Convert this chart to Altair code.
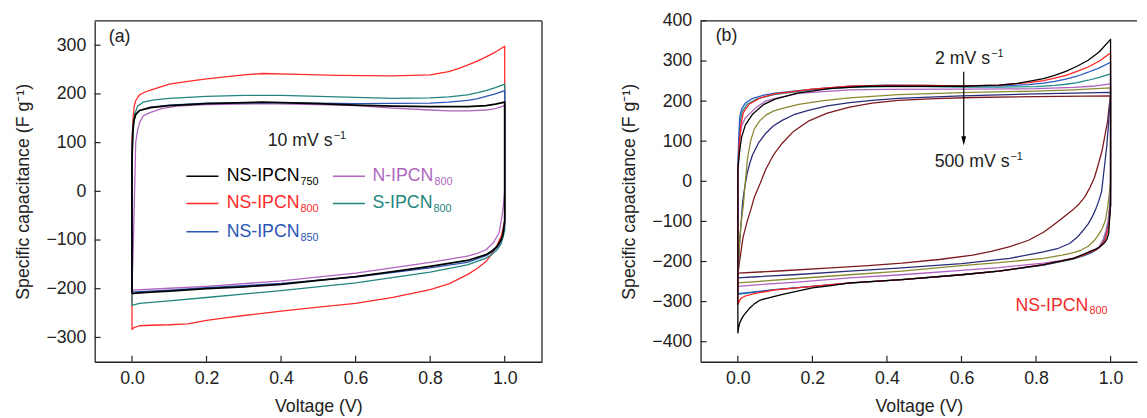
import altair as alt
import pandas as pd

FONT = "Liberation Sans"
INK = "#222222"

# ---------------- tick values ----------------
X_TICKS = [0.0, 0.2, 0.4, 0.6, 0.8, 1.0]
A_Y_TICKS = [-300, -200, -100, 0, 100, 200, 300]
B_Y_TICKS = [-400, -300, -200, -100, 0, 100, 200, 300, 400]

# ---------------- panel (a): samples at 10 mV/s ----------------
A_SERIES = ["NS-IPCN800", "N-IPCN800", "S-IPCN800", "NS-IPCN850", "NS-IPCN750"]
A_COLORS = ["#ff2a2a", "#b066be", "#23867e", "#2b55b5", "#000000"]

A_V_NS800 = [0.0, 0.0, 0.003, 0.006, 0.01, 0.02, 0.035, 0.05, 0.075, 0.1, 0.15, 0.2, 0.25, 0.3, 0.35, 0.45, 0.55, 0.7,
             0.8, 0.85, 0.875, 0.9, 0.925, 0.95, 0.975, 1.0,
             1.0, 0.995, 0.99, 0.98, 0.97, 0.95, 0.925, 0.9, 0.85, 0.8, 0.7, 0.6, 0.5, 0.4, 0.3, 0.25, 0.2, 0.15,
             0.1, 0.05, 0.02, 0.005, 0.0]
A_C_NS800 = [-284, 100, 150, 175, 186, 198, 204, 208, 214, 220, 226, 231, 235, 239, 242, 240, 238, 237,
             239, 246, 252, 259, 267, 276, 286, 298,
             -60, -78, -93, -110, -124, -144, -159, -171, -190, -202, -218, -230, -238, -246, -255, -260, -265, -272,
             -274, -275, -276, -280, -284]

A_V_N800 = [0.0, 0.004, 0.007, 0.01, 0.015, 0.02, 0.03, 0.05, 0.08, 0.12, 0.2, 0.35, 0.5, 0.6, 0.7, 0.8, 0.85, 0.9,
            0.95, 0.975, 1.0,
            1.0, 0.997, 0.993, 0.985, 0.97, 0.95, 0.925, 0.9, 0.8, 0.6, 0.4, 0.2, 0.1, 0.0]
A_C_N800 = [-203, -100, 0, 100, 125, 140, 155, 162, 170, 175, 178, 180, 178, 176, 171, 167, 165, 165,
            167, 170, 176,
            0, -25, -50, -85, -105, -120, -128, -133, -146, -168, -184, -195, -199, -203]

A_V_S800 = [0.0, 0.0, 0.003, 0.008, 0.015, 0.03, 0.06, 0.1, 0.2, 0.3, 0.4, 0.5, 0.6, 0.7, 0.8, 0.85, 0.9, 0.925,
            0.95, 0.975, 1.0,
            1.0, 0.995, 0.99, 0.98, 0.965, 0.95, 0.9, 0.8, 0.6, 0.4, 0.2, 0.1, 0.02, 0.0]
A_C_S800 = [-234, 60, 130, 160, 175, 183, 188, 191, 195, 197, 197, 195, 193, 191, 192, 194, 198, 202,
            207, 213, 220,
            -80, -96, -108, -120, -130, -137, -151, -166, -188, -204, -218, -225, -230, -234]

A_V_NS850 = [0.0, 0.0, 0.003, 0.005, 0.01, 0.02, 0.05, 0.1, 0.2, 0.4, 0.6, 0.8, 0.85, 0.9, 0.925, 0.95, 0.975, 1.0,
             1.0, 0.995, 0.99, 0.98, 0.965, 0.95, 0.9, 0.8, 0.6, 0.4, 0.2, 0.1, 0.02, 0.0]
A_C_NS850 = [-207, 80, 130, 145, 157, 166, 173, 177, 181, 182, 180, 181, 183, 187, 190, 195, 200, 207,
             -70, -88, -102, -115, -125, -132, -146, -157, -176, -189, -198, -203, -206, -207]

A_V_NS750 = [0.0, 0.0, 0.002, 0.005, 0.01, 0.02, 0.05, 0.1, 0.2, 0.35, 0.5, 0.6, 0.7, 0.8, 0.9, 0.95, 0.975, 1.0,
             1.0, 0.995, 0.99, 0.98, 0.965, 0.95, 0.9, 0.8, 0.7, 0.6, 0.5, 0.4, 0.3, 0.2, 0.1, 0.05, 0.01, 0.0]
A_C_NS750 = [-210, 60, 120, 145, 158, 166, 172, 176, 180, 183, 180, 177, 175, 174, 174, 176, 179, 183,
             -60, -90, -100, -113, -123, -130, -142, -154, -165, -175, -183, -191, -196, -200, -205, -207, -209, -210]

A_V = [A_V_NS800, A_V_N800, A_V_S800, A_V_NS850, A_V_NS750]
A_C = [A_C_NS800, A_C_N800, A_C_S800, A_C_NS850, A_C_NS750]

# legend of panel (a)
LEG_SERIES = ["NS-IPCN750", "NS-IPCN800", "NS-IPCN850", "N-IPCN800", "S-IPCN800"]
LEG_MAIN = ["NS-IPCN", "NS-IPCN", "NS-IPCN", "N-IPCN", "S-IPCN"]
LEG_SUB = ["750", "800", "850", "800", "800"]

# ---------------- panel (b): NS-IPCN800 at 2 ... 500 mV/s ----------------
B_SERIES = ["500 mV/s", "200 mV/s", "100 mV/s", "50 mV/s", "20 mV/s", "10 mV/s", "5 mV/s", "2 mV/s"]
B_COLORS = ["#7d1a1e", "#2a2d78", "#8c8a30", "#b060c0", "#1f8f8a", "#2b5cc0", "#ff2020", "#000000"]

B_V_2 = [0.0, 0.0, 0.004, 0.01, 0.02, 0.04, 0.07, 0.1, 0.16, 0.25, 0.35, 0.5, 0.6, 0.7, 0.75, 0.78, 0.82, 0.85, 0.88,
         0.91, 0.94, 0.97, 1.0,
         1.0, 0.997, 0.995, 0.99, 0.985, 0.978, 0.97, 0.96, 0.95, 0.93, 0.9, 0.82, 0.7, 0.6, 0.44, 0.3, 0.25, 0.2,
         0.163, 0.12, 0.08, 0.06, 0.045, 0.03, 0.015, 0.01, 0.005, 0.002, 0.0]
B_C_2 = [-379, 30, 70, 110, 140, 168, 192, 205, 220, 232, 237, 237, 237, 240, 244, 249, 256, 264, 274,
         287, 302, 323, 354,
         -60, -100, -130, -145, -152, -158, -164, -169, -173, -181, -192, -208, -224, -233, -245, -253, -260, -266,
         -273, -282, -291, -296, -305, -318, -335, -343, -353, -365, -379]

B_V_5 = [0.0, 0.0, 0.003, 0.008, 0.015, 0.03, 0.06, 0.1, 0.2, 0.3, 0.4, 0.5, 0.6, 0.7, 0.78, 0.82, 0.85, 0.88, 0.91,
         0.94, 0.97, 1.0,
         1.0, 0.997, 0.995, 0.99, 0.985, 0.978, 0.97, 0.96, 0.95, 0.93, 0.9, 0.82, 0.7, 0.6, 0.44, 0.3, 0.2, 0.1,
         0.05, 0.02, 0.01, 0.005, 0.0]
B_C_5 = [-308, 20, 80, 140, 172, 192, 208, 218, 230, 237, 239, 239, 238, 240, 246, 251, 257, 264, 274,
         285, 300, 320,
         -60, -90, -110, -130, -145, -156, -165, -171, -175, -183, -193, -208, -224, -233, -245, -253, -262, -271,
         -279, -286, -291, -296, -308]

B_V_10 = [0.0, 0.0, 0.002, 0.005, 0.01, 0.02, 0.04, 0.07, 0.1, 0.2, 0.3, 0.4, 0.5, 0.6, 0.7, 0.78, 0.82, 0.85, 0.88,
          0.91, 0.94, 0.97, 1.0,
          1.0, 0.997, 0.995, 0.99, 0.985, 0.978, 0.97, 0.96, 0.95, 0.93, 0.9, 0.82, 0.7, 0.6, 0.44, 0.3, 0.2, 0.1,
          0.05, 0.0]
B_C_10 = [-280, 40, 100, 160, 180, 195, 207, 215, 220, 230, 237, 240, 239, 238, 238, 241, 245, 249, 255,
          262, 272, 283, 297,
          -60, -90, -110, -130, -145, -156, -165, -171, -176, -184, -193, -209, -224, -233, -245, -254, -262, -270,
          -275, -280]

B_V_20 = [0.0, 0.0, 0.003, 0.006, 0.012, 0.025, 0.05, 0.1, 0.2, 0.3, 0.4, 0.5, 0.6, 0.7, 0.8, 0.85, 0.88, 0.91,
          0.94, 0.97, 1.0,
          1.0, 0.997, 0.995, 0.99, 0.985, 0.978, 0.97, 0.96, 0.95, 0.93, 0.9, 0.82, 0.7, 0.6, 0.44, 0.3, 0.2, 0.1,
          0.05, 0.0]
B_C_20 = [-282, 30, 100, 150, 175, 192, 205, 217, 228, 234, 236, 236, 235, 235, 236, 239, 242, 246,
          252, 259, 268,
          -40, -75, -100, -125, -140, -154, -165, -172, -177, -185, -194, -209, -224, -233, -245, -254, -262, -270,
          -276, -282]

B_V_50 = [0.0, 0.0, 0.004, 0.01, 0.02, 0.03, 0.05, 0.075, 0.1, 0.163, 0.2, 0.3, 0.4, 0.6, 0.8, 0.9, 0.95, 1.0,
          1.0, 0.997, 0.993, 0.987, 0.98, 0.967, 0.95, 0.92, 0.87, 0.82, 0.7, 0.6, 0.44, 0.3, 0.15, 0.05, 0.0]
B_C_50 = [-262, 0, 100, 138, 158, 167, 185, 200, 207, 219, 222, 228, 229, 230, 231, 234, 237, 243,
          -20, -65, -100, -125, -145, -167, -178, -188, -197, -204, -215, -222, -233, -241, -252, -258, -262]

B_V_100 = [0.0, 0.002, 0.004, 0.008, 0.015, 0.02, 0.026, 0.034, 0.044, 0.058, 0.075, 0.095, 0.12, 0.163, 0.23, 0.3,
           0.43, 0.6, 0.8, 0.9, 1.0,
           1.0, 0.996, 0.993, 0.986, 0.978, 0.97, 0.957, 0.94, 0.92, 0.895, 0.87, 0.82, 0.7, 0.6, 0.44, 0.3, 0.15,
           0.05, 0.0]
B_C_100 = [-253, -210, -160, -110, -57, 0, 57, 100, 130, 150, 165, 175, 182, 192, 201, 208,
           216, 221, 225, 228, 233,
           0, -35, -60, -98, -117, -130, -147, -162, -172, -179, -184, -192, -203, -210, -224, -233, -243,
           -250, -253]

B_V_200 = [0.0, 0.003, 0.005, 0.009, 0.013, 0.019, 0.025, 0.032, 0.039, 0.055, 0.075, 0.095, 0.119, 0.15, 0.189,
           0.24, 0.3, 0.36, 0.43, 0.6, 0.8, 1.0,
           1.0, 0.998, 0.995, 0.99, 0.984, 0.976, 0.968, 0.96, 0.95, 0.94, 0.925, 0.912, 0.89, 0.86, 0.82, 0.73,
           0.6, 0.44, 0.3, 0.15, 0.05, 0.0]
B_C_200 = [-241, -190, -150, -100, -50, -12, 20, 45, 65, 95, 120, 138, 152, 166, 177,
           188, 196, 202, 207, 213, 218, 222,
           222, 190, 150, 90, 40, -25, -50, -70, -90, -106, -124, -138, -155, -167, -176, -192,
           -205, -216, -224, -233, -238, -241]

B_V_500 = [0.0, 0.007, 0.014, 0.025, 0.035, 0.044, 0.06, 0.075, 0.095, 0.119, 0.15, 0.189, 0.24, 0.3, 0.36, 0.43,
           0.53, 0.63, 0.8, 1.0,
           0.996, 0.992, 0.985, 0.978, 0.968, 0.957, 0.945, 0.93, 0.915, 0.9, 0.87, 0.845, 0.82, 0.78, 0.73, 0.68,
           0.63, 0.54, 0.44, 0.35, 0.25, 0.12, 0.0]
B_C_500 = [-229, -185, -139, -100, -70, -40, -5, 30, 65, 95, 125, 150, 170, 185, 195, 202,
           206, 209, 211, 213,
           185, 150, 115, 80, 45, 10, -15, -40, -57, -70, -92, -110, -127, -147, -163, -175,
           -184, -195, -204, -210, -216, -223, -229]

B_V = [B_V_500, B_V_200, B_V_100, B_V_50, B_V_20, B_V_10, B_V_5, B_V_2]
B_C = [B_C_500, B_C_200, B_C_100, B_C_50, B_C_20, B_C_10, B_C_5, B_C_2]

# ---------------- layout constants ----------------
W_A, W_B, H = 454, 443, 346
TICK_LEN = 6
XS_A = alt.Scale(domain=[-0.1, 1.1], nice=False, zero=False)
XS_B = alt.Scale(domain=[-0.1, 1.071], nice=False, zero=False)
YS_A = alt.Scale(domain=[-350, 350], nice=False, zero=False)
YS_B = alt.Scale(domain=[-450, 400], nice=False, zero=False)


def build(names, vs, cs):
    rows = []
    for n, v, c in zip(names, vs, cs):
        for i, (x, y) in enumerate(zip(v, c)):
            rows.append({"series": n, "i": i, "V": x, "C": y})
    return pd.DataFrame(rows)


def x_axis():
    return alt.Axis(values=X_TICKS, format=".1f", title="Voltage (V)", ticks=False, tickSize=0,
                    labelPadding=8, titlePadding=10, grid=False, domainColor=INK, domainWidth=1.3,
                    labelFont=FONT, labelFontSize=18, labelColor=INK, titleFont=FONT, titleFontSize=18,
                    titleFontWeight="normal", titleColor=INK, labelFlush=False)


def y_axis(vals):
    return alt.Axis(values=vals, format="d", title="Specific capacitance (F g\u207b\u00b9)", ticks=False,
                    tickSize=0, labelPadding=9, titlePadding=14, grid=False, domainColor=INK, domainWidth=1.3,
                    labelFont=FONT, labelFontSize=18, labelColor=INK, titleFont=FONT, titleFontSize=18,
                    titleFontWeight="normal", titleColor=INK, labelFlush=False)


class Panel:
    def __init__(self, xs, ys, y_ticks):
        self.xs, self.ys = xs, ys
        self.xax, self.yax = x_axis(), y_axis(y_ticks)

    def X(self, f):
        return alt.X(f, scale=self.xs, axis=self.xax)

    def Y(self, f):
        return alt.Y(f, scale=self.ys, axis=self.yax)

    def text(self, x, y, txt, size, color, dx=0, dy=0):
        df = pd.DataFrame({"V": [x], "C": [y], "t": [txt]})
        return alt.Chart(df).mark_text(align="left", baseline="middle", font=FONT, fontSize=size,
                                       color=color, dx=dx, dy=dy).encode(
            x=self.X("V:Q"), y=self.Y("C:Q"), text="t:N")

    def frame(self, y_ticks, top_c, right_v=None):
        layers = [
            alt.Chart(pd.DataFrame({"V": X_TICKS})).mark_rule(color=INK, strokeWidth=1.2).encode(
                x=self.X("V:Q"), y=alt.value(H), y2=alt.value(H - TICK_LEN)),
            alt.Chart(pd.DataFrame({"C": y_ticks})).mark_rule(color=INK, strokeWidth=1.2).encode(
                y=self.Y("C:Q"), x=alt.value(0), x2=alt.value(TICK_LEN)),
            alt.Chart(pd.DataFrame({"C": [top_c]})).mark_rule(color=INK, strokeWidth=1.3).encode(
                y=self.Y("C:Q")),
        ]
        if right_v is not None:
            layers.append(alt.Chart(pd.DataFrame({"V": [right_v]})).mark_rule(color=INK, strokeWidth=1.3).encode(
                x=self.X("V:Q")))
        return layers


# ---------------- panel (a) ----------------
pa = Panel(XS_A, YS_A, A_Y_TICKS)
df_a = build(A_SERIES, A_V, A_C)
color_a = alt.Scale(domain=A_SERIES, range=A_COLORS)
lines_a = alt.Chart(df_a).mark_line(clip=True, strokeJoin="round").encode(
    x=pa.X("V:Q"), y=pa.Y("C:Q"),
    color=alt.Color("series:N", scale=color_a, legend=None),
    order="i:Q",
    strokeWidth=alt.condition(alt.datum.series == "NS-IPCN750", alt.value(1.8), alt.value(1.3)),
)

LEG_ROWS = [31, -25, -83, 31, -25]
LEG_COLS = [0, 0, 0, 1, 1]
COL_X1, COL_X2, COL_XT = [0.146, 0.539], [0.232, 0.625], [0.254, 0.645]
leg_df = pd.DataFrame({
    "series": LEG_SERIES, "main": LEG_MAIN, "sub": LEG_SUB,
    "C": LEG_ROWS,
    "V": [COL_X1[c] for c in LEG_COLS], "V2": [COL_X2[c] for c in LEG_COLS],
    "VT": [COL_XT[c] for c in LEG_COLS],
})
leg_lines = alt.Chart(leg_df).mark_rule(strokeWidth=1.6).encode(
    x=pa.X("V:Q"), x2="V2:Q", y=pa.Y("C:Q"),
    color=alt.Color("series:N", scale=color_a, legend=None))
leg_main = alt.Chart(leg_df).mark_text(align="left", baseline="middle", font=FONT, fontSize=18).encode(
    x=pa.X("VT:Q"), y=pa.Y("C:Q"),
    text="main:N", color=alt.Color("series:N", scale=color_a, legend=None))
SUB_DX = {"NS-IPCN": 75, "N-IPCN": 63, "S-IPCN": 62}
leg_subs = []
for m, dx in SUB_DX.items():
    leg_subs.append(alt.Chart(leg_df[leg_df["main"] == m]).mark_text(
        align="left", baseline="middle", font=FONT, fontSize=11, dx=dx, dy=6).encode(
        x=pa.X("VT:Q"), y=pa.Y("C:Q"),
        text="sub:N", color=alt.Color("series:N", scale=color_a, legend=None)))

panel_a = alt.layer(
    lines_a,
    *pa.frame(A_Y_TICKS, 350, 1.1),
    leg_lines, leg_main, *leg_subs,
    pa.text(0.364, 103, "10 mV s", 18, INK),
    pa.text(0.364, 103, "\u22121", 11, INK, dx=67, dy=-5),
    pa.text(-0.062, 316, "(a)", 18, INK),
).properties(width=W_A, height=H)

# ---------------- panel (b) ----------------
pb = Panel(XS_B, YS_B, B_Y_TICKS)
df_b = build(B_SERIES, B_V, B_C)
color_b = alt.Scale(domain=B_SERIES, range=B_COLORS)
lines_b = alt.Chart(df_b).mark_line(clip=True, strokeJoin="round", strokeWidth=1.3).encode(
    x=pb.X("V:Q"), y=pb.Y("C:Q"),
    color=alt.Color("series:N", scale=color_b, legend=None),
    order="i:Q",
)

ARROW_V = 0.606
arrow_line = alt.Chart(pd.DataFrame({"V": [ARROW_V], "C": [273], "C2": [104]})).mark_rule(
    color="black", strokeWidth=1.2).encode(x=pb.X("V:Q"), y=pb.Y("C:Q"), y2="C2:Q")
arrow_head = alt.Chart(pd.DataFrame({"V": [ARROW_V], "C": [101]})).mark_point(
    shape="M-0.5,-1L0.5,-1L0,1Z", filled=True, size=90, color="black", opacity=1).encode(
    x=pb.X("V:Q"), y=pb.Y("C:Q"))

panel_b = alt.layer(
    lines_b,
    *pb.frame(B_Y_TICKS, 400, None),
    arrow_line, arrow_head,
    pb.text(0.529, 304, "2 mV s", 18, INK),
    pb.text(0.529, 304, "\u22121", 11, INK, dx=57, dy=-5),
    pb.text(0.528, 49, "500 mV s", 18, INK),
    pb.text(0.528, 49, "\u22121", 11, INK, dx=77, dy=-5),
    pb.text(0.745, -310, "NS-IPCN", 18, "#f02a2a"),
    pb.text(0.745, -310, "800", 11, "#f02a2a", dx=75, dy=6),
    pb.text(-0.0595, 361, "(b)", 18, INK),
).properties(width=W_B, height=H)

chart = alt.hconcat(panel_a, panel_b, spacing=76).resolve_scale(color="independent").properties(
    padding={"left": 5, "top": 0, "right": 0, "bottom": 0},
    background="white",
).configure_view(stroke="transparent")

chart.save("out.html", embed_options={"renderer": "svg", "actions": False})
